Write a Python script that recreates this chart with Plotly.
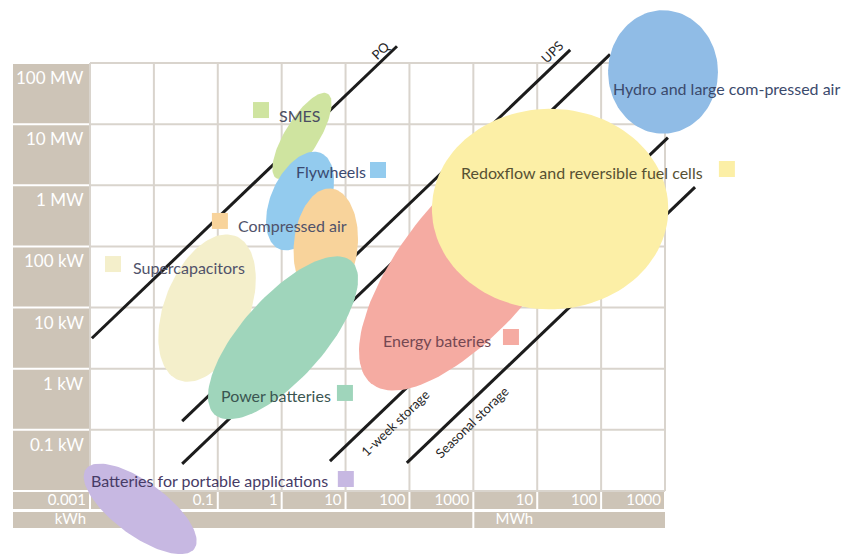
import numpy as np
import plotly.graph_objects as go

# ---------------- data ----------------
power_labels = ["100 MW", "10 MW", "1 MW", "100 kW", "10 kW", "1 kW", "0.1 kW"]
power_values_kw = [1e5, 1e4, 1e3, 1e2, 1e1, 1e0, 1e-1]
power_floor_kw = 1e-2

energy_labels = ["0.001", "0.01", "0.1", "1", "10", "100", "1000", "10", "100", "1000"]
energy_values_kwh = [1e-3, 1e-2, 1e-1, 1e0, 1e1, 1e2, 1e3, 1e4, 1e5, 1e6]
unit_labels = ["kWh", "MWh"]
unit_values_kwh = [1e-3, 1e4]

# technologies (drawing order = list order)
tech_names = ["Supercapacitors", "SMES", "Flywheels", "Compressed air", "Power batteries",
              "Energy bateries", "Redoxflow and reversible fuel cells",
              "Hydro and large com-pressed air", "Batteries for portable applications"]
tech_energy_kwh = [0.068, 2.08, 1.94, 4.9, 1.05, 1100, 15900, 931000, 0.0061]
tech_power_kw = [9.8, 6400, 553, 105, 3.2, 67, 408, 71300, 0.0051]
tech_major_dec = [1.26, 0.80, 0.85, 0.93, 1.65, 2.64, 1.85, 0.86, 1.07]
tech_minor_dec = [0.67, 0.27, 0.46, 0.50, 0.66, 1.07, 1.64, 1.01, 0.43]
tech_angle_deg = [70, 60, 68, 85, 50, 52, 0, 0, -38]
tech_colors = ["#f4efcb", "#cfe4a0", "#93cbee", "#f8d39b", "#9fd5bb",
               "#f5aba2", "#fcefa6", "#90bce6", "#c7b8e2"]
tech_text_colors = ["#50526a", "#4a4d62", "#3a4970", "#50526a", "#3b5651",
                    "#744852", "#575133", "#3b4a6c", "#463b66"]
# label anchors (left edge of text) and legend squares
label_energy_kwh = [0.0045, 0.88, 1.62, 0.20, 0.108, 37.2, 618, 148000, 0.001]
label_power_kw = [46, 14100, 1650, 216, 0.371, 2.84, 1589, 39000, 0.0151]
square_energy_kwh = [0.00229, 0.475, 32.2, 0.108, 9.78, 3880, 9.3e6, None, 10.1]
square_power_kw = [51.5, 17000, 1778, 261, 0.401, 3.30, 1846, None, 0.0157]

# constant discharge-time lines
line_names = ["PQ", "UPS", "", "1-week storage", "Seasonal storage"]
line_hours = [3.4e-4, 0.2, 1.0, 185, 3160]
line_e_start_kwh = [0.00107, 0.0277, 0.0277, 5.7, 91]
line_e_end_kwh = [63.8, 32800, 138000, 1.11e6, 2.95e6]
line_label_energy_kwh = [35.7, 17000, None, 59.4, 953]
line_label_power_kw = [163000, 151000, None, 0.129, 0.134]

# ---------------- layout geometry ----------------
W, H = 859, 554
XR = (-4.2834, 9.1615)   # log10 kWh over full width
YR = (-3.1616, 5.8996)   # log10 kW over full height
PXDEC = W / (XR[1] - XR[0])
TAN = "#cdc4b7"
GRID = "#d9d4cd"
FONT = "Lato"


def px_x(lg):
    return (lg - XR[0]) / (XR[1] - XR[0]) * W


def px_y(lg):
    return H - (lg - YR[0]) / (YR[1] - YR[0]) * H


def lg_y(py):
    return YR[0] + (H - py) / H * (YR[1] - YR[0])


def rect(x0, x1, y0, y1, color):
    return dict(type="rect", xref="paper", yref="paper", layer="below",
                x0=x0 / W, x1=x1 / W, y0=1 - y1 / H, y1=1 - y0 / H,
                fillcolor=color, line=dict(width=0))


fig = go.Figure()
shapes = []
LEFT = 5
col_right = px_x(np.log10(energy_values_kwh[0]))
# left label column
for v in power_values_kw:
    top = px_y(np.log10(v)) + 1
    bot = px_y(np.log10(v) - 1) - 1
    shapes.append(rect(LEFT, col_right - 1, top, bot, TAN))
# tick row
tick_top = px_y(np.log10(power_floor_kw)) + 1
tick_bot = tick_top + 17
prev = LEFT
for e in energy_values_kwh:
    xe = px_x(np.log10(e))
    shapes.append(rect(prev, xe - 1, tick_top, tick_bot, TAN))
    prev = xe + 1
# unit row
unit_top = tick_bot + 3
unit_bot = unit_top + 16
split = px_x(np.log10(1e3))
right = px_x(np.log10(energy_values_kwh[-1]))
shapes.append(rect(LEFT, split - 1, unit_top, unit_bot, TAN))
shapes.append(rect(split + 1, right, unit_top, unit_bot, TAN))

# grid
gx, gy = [], []
for e in energy_values_kwh:
    gx += [e, e, None]
    gy += [power_floor_kw, power_values_kw[0], None]
for p in power_values_kw + [power_floor_kw]:
    gx += [energy_values_kwh[0], energy_values_kwh[-1], None]
    gy += [p, p, None]
fig.add_trace(go.Scatter(x=gx, y=gy, mode="lines", line=dict(color=GRID, width=2),
                         hoverinfo="skip"))

# bottom tick labels (as traces so they sit under the ellipses)
nudge = 10 ** (-4 / PXDEC)
fig.add_trace(go.Scatter(x=[e * nudge for e in energy_values_kwh],
                         y=[10 ** lg_y((tick_top + tick_bot) / 2 + 0.5)] * len(energy_values_kwh),
                         mode="text", text=energy_labels, textposition="middle left",
                         textfont=dict(family=FONT, size=15, color="white"), hoverinfo="skip"))
fig.add_trace(go.Scatter(x=[e * nudge for e in unit_values_kwh],
                         y=[10 ** lg_y((unit_top + unit_bot) / 2)] * 2,
                         mode="text", text=unit_labels, textposition="middle left",
                         textfont=dict(family=FONT, size=15, color="white"), hoverinfo="skip"))

# diagonal lines
for t, e0, e1 in zip(line_hours, line_e_start_kwh, line_e_end_kwh):
    fig.add_trace(go.Scatter(x=[e0, e1], y=[e0 / t, e1 / t], mode="lines",
                             line=dict(color="#1c1c1c", width=3), hoverinfo="skip"))

# ellipses
th = np.linspace(0, 2 * np.pi, 120)
for name, ce, cp, a, b, ang, col in zip(tech_names, tech_energy_kwh, tech_power_kw,
                                         tech_major_dec, tech_minor_dec, tech_angle_deg, tech_colors):
    r = np.radians(ang)
    lx = np.log10(ce) + a * np.cos(r) * np.cos(th) - b * np.sin(r) * np.sin(th)
    ly = np.log10(cp) + a * np.sin(r) * np.cos(th) + b * np.cos(r) * np.sin(th)
    fig.add_trace(go.Scatter(x=10 ** lx, y=10 ** ly, mode="lines", fill="toself",
                             fillcolor=col, line=dict(width=0, color=col), name=name,
                             hoverinfo="name"))

# legend squares
for se, sp, col in zip(square_energy_kwh, square_power_kw, tech_colors):
    if se is None:
        continue
    fig.add_trace(go.Scatter(x=[se], y=[sp], mode="markers",
                             marker=dict(symbol="square", size=16, color=col, line=dict(width=0)),
                             hoverinfo="skip"))

ann = []
for name, le, lp, tc in zip(tech_names, label_energy_kwh, label_power_kw, tech_text_colors):
    ann.append(dict(x=np.log10(le), y=np.log10(lp), xref="x", yref="y", text=name,
                    showarrow=False, xanchor="left", yanchor="middle", borderpad=0,
                    font=dict(family=FONT, size=16, color=tc)))
for nm, le, lp in zip(line_names, line_label_energy_kwh, line_label_power_kw):
    if not nm:
        continue
    ann.append(dict(x=np.log10(le), y=np.log10(lp), xref="x", yref="y", text=nm,
                    showarrow=False, textangle=-44, xanchor="center", yanchor="middle",
                    font=dict(family=FONT, size=13, color="#262626")))
for lab, v in zip(power_labels, power_values_kw):
    ann.append(dict(x=np.log10(energy_values_kwh[0]), y=np.log10(v), xref="x", yref="y",
                    text=lab, showarrow=False, xanchor="right", yanchor="top",
                    xshift=-4, yshift=-2,
                    font=dict(family=FONT, size=17, color="white")))

fig.update_layout(
    width=W, height=H, margin=dict(l=0, r=0, t=0, b=0),
    paper_bgcolor="white", plot_bgcolor="white", showlegend=False,
    shapes=shapes, annotations=ann,
    xaxis=dict(type="log", range=list(XR), visible=False, fixedrange=True),
    yaxis=dict(type="log", range=list(YR), visible=False, fixedrange=True),
)
fig.write_html("out.html")
